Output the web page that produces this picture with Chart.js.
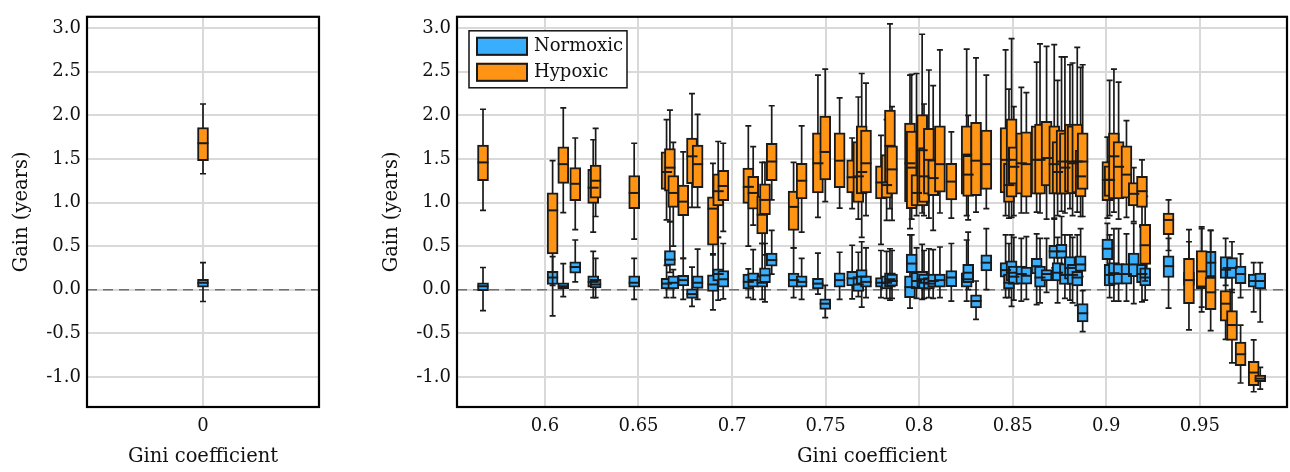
<!DOCTYPE html>
<html>
<head>
<meta charset="utf-8">
<script src="https://cdn.jsdelivr.net/npm/chart.js@4.4.1/dist/chart.umd.min.js"></script>
<style>
  html, body { margin: 0; padding: 0; background: #fff; }
  #wrap { position: relative; width: 1290px; height: 472px; }
  canvas { position: absolute; top: 0; }
  #left { left: 0; }
  #right { left: 330px; }
</style>
</head>
<body>
<div id="wrap">
  <canvas id="left" width="330" height="472"></canvas>
  <canvas id="right" width="960" height="472"></canvas>
</div>
<script>
// Box stats are [min, q1, median, q3, max]

// Left panel: perfectly equal population
const giniEqual = [0];
const hypoxicEqual = [[1.33, 1.48, 1.68, 1.86, 2.13]];
const normoxicEqual = [[-0.135, 0.03, 0.08, 0.12, 0.31]];

// Right panel
const gini = [
  0.5669, 0.6041, 0.6098, 0.6162, 0.6258, 0.6271, 0.6477, 0.6650, 0.6668, 0.6686,
  0.6739, 0.6786, 0.6816, 0.6898, 0.6926, 0.6953, 0.7087, 0.7113, 0.7161, 0.7176,
  0.7212, 0.7329, 0.7372, 0.7459, 0.7498, 0.7575, 0.7642, 0.7675, 0.7693, 0.7716,
  0.7796, 0.7826, 0.7844, 0.7855, 0.7951, 0.7960, 0.7986, 0.8016, 0.8026, 0.8052,
  0.8075, 0.8111, 0.8172, 0.8254, 0.8262, 0.8304, 0.8359, 0.8462, 0.8480, 0.8494,
  0.8506, 0.8546, 0.8573, 0.8628, 0.8646, 0.8681, 0.8722, 0.8740, 0.8761, 0.8779,
  0.8806, 0.8820, 0.8845, 0.8863, 0.8874, 0.9006, 0.9018, 0.9041, 0.9066, 0.9108,
  0.9147, 0.9191, 0.9208, 0.9333, 0.9442, 0.9510, 0.9558, 0.9638, 0.9672, 0.9718,
  0.9788, 0.9823
];

const hypoxic = [
  [0.91, 1.25, 1.46, 1.66, 2.07], [0.05, 0.41, 0.91, 1.11, 1.48], [0.885, 1.22, 1.44, 1.64, 2.085],
  [0.69, 1.02, 1.215, 1.40, 1.74], [0.66, 0.99, 1.17, 1.38, 1.72], [0.84, 1.05, 1.25, 1.43, 1.85],
  [0.58, 0.93, 1.11, 1.31, 1.68], [0.80, 1.15, 1.35, 1.58, 1.95], [0.78, 1.13, 1.40, 1.62, 2.06],
  [0.50, 0.945, 1.11, 1.31, 1.69], [0.36, 0.85, 1.01, 1.20, 1.58], [0.945, 1.215, 1.53, 1.74, 2.25],
  [0.945, 1.17, 1.44, 1.66, 2.01], [0.40, 0.51, 0.93, 1.065, 1.45], [0.60, 0.96, 1.13, 1.33, 1.70],
  [0.67, 1.02, 1.19, 1.37, 1.68], [0.50, 0.99, 1.18, 1.395, 1.88], [0.74, 0.925, 1.11, 1.30, 1.64],
  [0.53, 0.64, 0.86, 1.075, 1.46], [0.40, 0.86, 1.03, 1.215, 1.46], [1.03, 1.25, 1.47, 1.68, 2.11],
  [0.48, 0.68, 0.95, 1.13, 1.46], [0.66, 1.04, 1.25, 1.45, 1.88], [0.83, 1.11, 1.45, 1.80, 2.46],
  [1.01, 1.26, 1.58, 1.99, 2.53], [0.935, 1.17, 1.48, 1.80, 2.20], [0.93, 1.11, 1.29, 1.49, 1.74],
  [0.81, 1.00, 1.30, 1.70, 2.21], [0.60, 1.10, 1.35, 1.88, 2.48], [0.85, 1.11, 1.45, 1.83, 2.37],
  [0.52, 1.04, 1.23, 1.42, 1.77], [0.795, 1.05, 1.20, 1.55, 1.95], [0.93, 1.23, 1.65, 2.06, 3.05],
  [0.795, 1.095, 1.38, 1.65, 2.10], [0.70, 1.01, 1.45, 1.91, 2.46], [0.81, 0.93, 1.40, 1.82, 2.47],
  [0.85, 0.96, 1.11, 1.32, 2.48], [0.88, 0.96, 1.60, 2.01, 2.93], [0.85, 1.00, 1.30, 1.63, 2.13],
  [0.82, 1.095, 1.49, 1.85, 2.52], [0.68, 1.08, 1.28, 1.49, 2.34], [0.88, 1.12, 1.44, 1.88, 2.75],
  [0.82, 1.03, 1.24, 1.45, 1.81], [0.85, 1.095, 1.55, 1.88, 2.76], [0.80, 1.07, 1.32, 1.54, 2.00],
  [0.89, 1.08, 1.48, 1.92, 2.66], [0.93, 1.15, 1.44, 1.83, 2.46], [0.85, 1.11, 1.49, 1.86, 2.75],
  [0.82, 1.00, 1.20, 1.45, 2.30], [0.83, 1.06, 1.49, 1.96, 2.88], [0.85, 1.21, 1.41, 1.64, 2.10],
  [0.88, 1.095, 1.45, 1.80, 2.32], [0.88, 1.06, 1.44, 1.81, 2.26], [0.89, 1.095, 1.49, 1.88, 2.61],
  [0.88, 1.095, 1.49, 1.90, 2.82], [0.81, 1.19, 1.51, 1.93, 2.79], [0.81, 1.095, 1.44, 1.88, 2.81],
  [0.85, 1.10, 1.35, 1.70, 2.40], [0.90, 1.095, 1.47, 1.83, 2.67], [0.88, 1.095, 1.40, 1.80, 2.67],
  [0.93, 1.12, 1.47, 1.90, 2.58], [0.85, 1.10, 1.45, 1.88, 2.60], [0.89, 1.11, 1.47, 1.90, 2.78],
  [0.84, 1.065, 1.30, 1.60, 2.55], [0.84, 1.15, 1.47, 1.80, 2.58], [0.82, 1.02, 1.26, 1.47, 1.75],
  [0.85, 1.07, 1.26, 1.42, 2.40], [0.89, 1.04, 1.53, 1.80, 2.53], [0.81, 1.04, 1.41, 1.70, 2.38],
  [0.83, 1.05, 1.32, 1.65, 1.94], [0.78, 0.96, 1.10, 1.23, 1.40], [0.72, 0.945, 1.13, 1.30, 1.49],
  [0.10, 0.29, 0.51, 0.75, 1.07], [0.45, 0.63, 0.80, 0.88, 1.03], [-0.46, -0.16, 0.11, 0.36, 0.69],
  [-0.255, 0.03, 0.21, 0.45, 0.72], [-0.47, -0.23, -0.03, 0.146, 0.68], [-0.57, -0.36, -0.16, -0.01, 0.25],
  [-0.84, -0.58, -0.405, -0.24, 0.0], [-1.07, -0.87, -0.74, -0.60, -0.405], [-1.17, -1.10, -0.95, -0.82, -0.575],
  [-1.14, -1.055, -1.02, -0.98, -0.89]
];

const normoxic = [
  [-0.24, -0.01, 0.04, 0.08, 0.255], [-0.30, 0.06, 0.14, 0.21, 0.38], [-0.08, 0.0, 0.04, 0.08, 0.30],
  [0.09, 0.19, 0.26, 0.32, 0.57], [-0.09, 0.03, 0.09, 0.16, 0.44], [-0.09, 0.02, 0.06, 0.12, 0.36],
  [-0.11, 0.03, 0.08, 0.16, 0.36], [-0.09, 0.01, 0.07, 0.13, 0.28], [0.20, 0.28, 0.345, 0.45, 0.78],
  [-0.09, 0.01, 0.08, 0.16, 0.23], [-0.11, 0.045, 0.11, 0.165, 0.36], [-0.19, -0.10, -0.05, 0.01, 0.26],
  [-0.11, 0.015, 0.08, 0.16, 0.465], [-0.23, -0.02, 0.06, 0.17, 0.41], [-0.12, 0.10, 0.18, 0.24, 0.60],
  [-0.105, 0.03, 0.12, 0.22, 0.53], [-0.09, 0.01, 0.09, 0.18, 0.24], [-0.11, 0.03, 0.11, 0.195, 0.46],
  [-0.11, 0.03, 0.08, 0.16, 0.53], [-0.14, 0.08, 0.165, 0.25, 0.53], [0.18, 0.27, 0.34, 0.42, 0.68],
  [-0.09, 0.03, 0.11, 0.19, 0.48], [-0.11, 0.03, 0.09, 0.16, 0.36], [-0.05, 0.01, 0.07, 0.13, 0.42],
  [-0.32, -0.225, -0.16, -0.105, 0.05], [-0.11, 0.03, 0.11, 0.195, 0.43], [-0.105, 0.045, 0.13, 0.21, 0.51],
  [-0.08, -0.02, 0.06, 0.15, 0.43], [-0.20, 0.065, 0.15, 0.23, 0.55], [-0.09, 0.03, 0.09, 0.16, 0.48],
  [-0.09, 0.03, 0.08, 0.14, 0.45], [-0.10, 0.01, 0.08, 0.16, 0.44], [-0.12, 0.03, 0.12, 0.195, 0.47],
  [-0.10, 0.04, 0.10, 0.18, 0.45], [-0.21, -0.09, 0.03, 0.16, 0.63], [0.05, 0.195, 0.30, 0.41, 0.63],
  [-0.10, 0.0, 0.10, 0.20, 0.48], [-0.11, 0.03, 0.12, 0.21, 0.52], [-0.10, 0.01, 0.08, 0.18, 0.45],
  [-0.09, 0.01, 0.07, 0.14, 0.47], [-0.10, 0.03, 0.10, 0.18, 0.46], [-0.09, 0.03, 0.11, 0.18, 0.49],
  [-0.13, 0.035, 0.14, 0.22, 0.53], [-0.13, 0.03, 0.12, 0.195, 0.57], [0.0, 0.08, 0.195, 0.29, 0.66],
  [-0.34, -0.21, -0.13, -0.06, 0.10], [0.0, 0.215, 0.31, 0.40, 0.70], [-0.09, 0.145, 0.225, 0.31, 0.63],
  [-0.09, 0.01, 0.08, 0.18, 0.53], [-0.19, 0.10, 0.195, 0.33, 0.63], [-0.12, 0.06, 0.15, 0.27, 0.60],
  [-0.13, 0.065, 0.18, 0.27, 0.59], [-0.11, 0.065, 0.16, 0.26, 0.61], [-0.17, 0.18, 0.27, 0.36, 0.64],
  [-0.15, 0.03, 0.14, 0.27, 0.59], [-0.03, 0.10, 0.18, 0.23, 0.59], [0.25, 0.36, 0.44, 0.51, 0.82],
  [-0.15, 0.10, 0.195, 0.31, 0.60], [0.25, 0.36, 0.44, 0.52, 0.84], [-0.10, 0.06, 0.17, 0.30, 0.63],
  [-0.12, 0.12, 0.25, 0.38, 0.63], [-0.15, 0.06, 0.17, 0.29, 0.60], [-0.18, 0.045, 0.14, 0.21, 0.63],
  [0.15, 0.21, 0.29, 0.39, 0.70], [-0.48, -0.37, -0.27, -0.16, -0.01], [0.15, 0.345, 0.47, 0.58, 0.76],
  [-0.09, 0.045, 0.17, 0.29, 0.63], [-0.13, 0.06, 0.19, 0.31, 0.70], [-0.13, 0.065, 0.18, 0.30, 0.70],
  [-0.13, 0.065, 0.18, 0.30, 0.64], [-0.16, 0.15, 0.29, 0.42, 0.76], [-0.14, 0.08, 0.18, 0.29, 0.74],
  [-0.12, 0.045, 0.14, 0.25, 0.74], [-0.21, 0.14, 0.27, 0.39, 0.59], [-0.15, 0.05, 0.12, 0.20, 0.55],
  [-0.20, 0.0, 0.20, 0.40, 0.70], [0.0, 0.146, 0.31, 0.44, 0.68], [0.05, 0.13, 0.23, 0.38, 0.59],
  [-0.03, 0.13, 0.25, 0.37, 0.55], [-0.09, 0.07, 0.18, 0.27, 0.41], [-0.255, 0.03, 0.10, 0.18, 0.31],
  [-0.37, 0.01, 0.10, 0.19, 0.31]
];

const xTicks = [0.6, 0.65, 0.7, 0.75, 0.8, 0.85, 0.9, 0.95];
const yTicks = [-1.0, -0.5, 0, 0.5, 1.0, 1.5, 2.0, 2.5, 3.0];

const FONT = "'DejaVu Serif', 'Liberation Serif', serif";
const BLUE = '#38aefc';
const ORANGE = '#ff9414';
const EDGE = '#1a1a1a';

function boxDataset(label, xs, stats, color, order) {
    return {
        label,
        data: xs.map((x, i) => ({ x, y: [stats[i][1], stats[i][3]] })),
        stats,
        backgroundColor: color,
        borderColor: EDGE,
        borderWidth: 2,
        borderSkipped: false,
        barThickness: 11,
        grouped: false,
        order
    };
}

// whiskers behind each box, medians on top
const boxPlot = {
    id: 'boxPlot',
    beforeDatasetsDraw(chart) {
        const { ctx, chartArea } = chart;
        const y0 = chart.scales.y.getPixelForValue(0);
        ctx.save();
        ctx.strokeStyle = '#707070';
        ctx.lineWidth = 1.5;
        ctx.setLineDash([10, 6]);
        ctx.beginPath();
        ctx.moveTo(chartArea.left, y0);
        ctx.lineTo(chartArea.right, y0);
        ctx.stroke();
        ctx.restore();
    },
    beforeDatasetDraw(chart, args) {
        const ds = chart.data.datasets[args.index];
        const y = chart.scales.y;
        const ctx = chart.ctx;
        ctx.save();
        ctx.strokeStyle = EDGE;
        ctx.lineWidth = 1.7;
        args.meta.data.forEach((bar, i) => {
            const s = ds.stats[i];
            const x = bar.x;
            const lo = y.getPixelForValue(s[0]);
            const hi = y.getPixelForValue(s[4]);
            ctx.beginPath();
            ctx.moveTo(x, lo); ctx.lineTo(x, hi);
            ctx.moveTo(x - 3, lo); ctx.lineTo(x + 3, lo);
            ctx.moveTo(x - 3, hi); ctx.lineTo(x + 3, hi);
            ctx.stroke();
        });
        ctx.restore();
    },
    afterDatasetDraw(chart, args) {
        const ds = chart.data.datasets[args.index];
        const y = chart.scales.y;
        const ctx = chart.ctx;
        ctx.save();
        ctx.strokeStyle = EDGE;
        ctx.lineWidth = 2;
        args.meta.data.forEach((bar, i) => {
            const m = y.getPixelForValue(ds.stats[i][2]);
            ctx.beginPath();
            ctx.moveTo(bar.x - bar.width / 2, m);
            ctx.lineTo(bar.x + bar.width / 2, m);
            ctx.stroke();
        });
        ctx.restore();
    },
    afterDatasetsDraw(chart, args, opts) {
        if (!opts.legend) return;
        const { ctx, chartArea } = chart;
        const L = chartArea.left, T = chartArea.top;
        ctx.save();
        ctx.fillStyle = '#fff';
        ctx.fillRect(L + 12, T + 14, 158, 57);
        ctx.strokeStyle = '#111';
        ctx.lineWidth = 1.5;
        ctx.strokeRect(L + 12, T + 14, 158, 57);
        chart.data.datasets.forEach((ds, i) => {
            const top = T + 20 + i * 26;
            ctx.fillStyle = ds.backgroundColor;
            ctx.fillRect(L + 19, top, 52, 19);
            ctx.strokeStyle = EDGE;
            ctx.lineWidth = 2;
            ctx.strokeRect(L + 20, top + 1, 50, 17);
            ctx.fillStyle = '#111';
            ctx.font = '18px ' + FONT;
            ctx.textBaseline = 'middle';
            ctx.fillText(ds.label, L + 77, top + 10);
        });
        ctx.restore();
    },
    afterDraw(chart) {
        const { ctx, chartArea } = chart;
        ctx.save();
        ctx.strokeStyle = '#000';
        ctx.lineWidth = 2.2;
        ctx.strokeRect(chartArea.left, chartArea.top, chartArea.right - chartArea.left, chartArea.bottom - chartArea.top);
        ctx.restore();
    }
};

function makeChart(canvas, cfg) {
    return new Chart(canvas, {
        type: 'bar',
        data: {
            datasets: [
                boxDataset('Normoxic', cfg.xs, cfg.normoxic, BLUE, 1),
                boxDataset('Hypoxic', cfg.xs, cfg.hypoxic, ORANGE, 0)
            ]
        },
        options: {
            responsive: false,
            animation: false,
            layout: { autoPadding: false, padding: { top: 9, right: cfg.padRight, left: 0, bottom: 0 } },
            plugins: {
                legend: { display: false },
                tooltip: { enabled: false },
                boxPlot: { legend: cfg.legend }
            },
            scales: {
                x: {
                    type: 'linear',
                    min: cfg.xMin,
                    max: cfg.xMax,
                    offset: false,
                    grid: { color: '#d9d9d9', lineWidth: 2, drawTicks: false, offset: false },
                    border: { display: false },
                    afterBuildTicks: (s) => { s.ticks = cfg.xTicks.map(v => ({ value: v })); },
                    afterFit: (s) => { s.height = 65; },
                    ticks: {
                        padding: 9,
                        color: '#111',
                        font: { family: FONT, size: 18 },
                        callback: (v) => String(Math.round(v * 100) / 100)
                    },
                    title: {
                        display: true,
                        text: 'Gini coefficient',
                        color: '#111',
                        font: { family: FONT, size: 19.5 },
                        padding: { top: 0, bottom: 3 }
                    }
                },
                y: {
                    min: -1.345,
                    max: 3.13,
                    grid: { color: '#d9d9d9', lineWidth: 2, drawTicks: false },
                    border: { display: false },
                    afterBuildTicks: (s) => { s.ticks = yTicks.map(v => ({ value: v })); },
                    afterFit: (s) => { s.width = cfg.yWidth; },
                    ticks: {
                        padding: 6,
                        color: '#111',
                        font: { family: FONT, size: 18 },
                        callback: (v) => v.toFixed(1)
                    },
                    title: {
                        display: true,
                        text: 'Gain (years)',
                        color: '#111',
                        font: { family: FONT, size: 19.5 },
                        padding: { top: cfg.titlePad, bottom: 0 }
                    }
                }
            }
        },
        plugins: [boxPlot]
    });
}

makeChart(document.getElementById('left'), {
    xs: giniEqual, hypoxic: hypoxicEqual, normoxic: normoxicEqual,
    xMin: -1, xMax: 1, xTicks: [0],
    yWidth: 87, padRight: 11, titlePad: 10, legend: false
});

makeChart(document.getElementById('right'), {
    xs: gini, hypoxic, normoxic,
    xMin: 0.553, xMax: 0.9966, xTicks,
    yWidth: 127, padRight: 3, titlePad: 50, legend: true
});
</script>
</body>
</html>
